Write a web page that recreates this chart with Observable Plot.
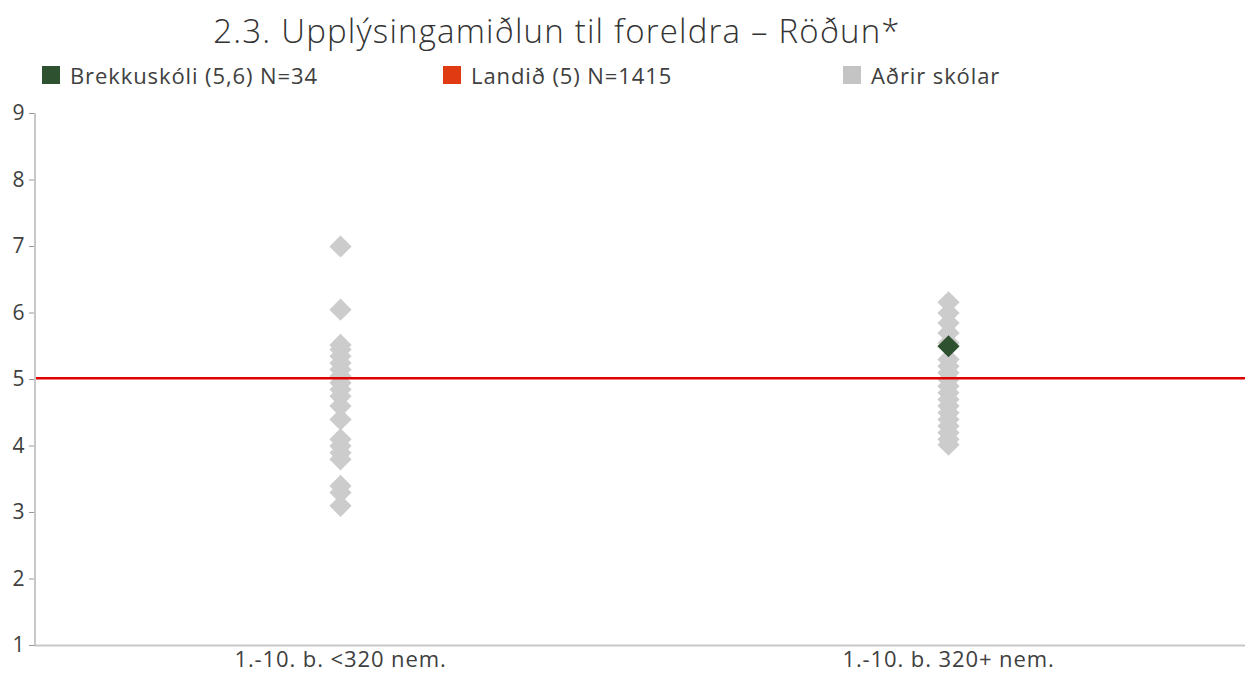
<!DOCTYPE html>
<html>
<head>
<meta charset="utf-8">
<script src="https://cdn.jsdelivr.net/npm/d3@7"></script>
<script src="https://cdn.jsdelivr.net/npm/@observablehq/plot@0.6"></script>
<style>
  body { margin: 0; background: #fff; font-family: "Open Sans", "Noto Sans", sans-serif; color: #404040; width: 1245px; height: 673px; overflow: hidden; }
  #title { height: 55px; line-height: 62px; font-size: 33px; font-weight: 300; letter-spacing: 1.2px; text-align: center; padding-right: 131px; box-sizing: border-box; color: #333; }
  #legend { height: 40px; position: relative; font-size: 22px; letter-spacing: 0.9px; }
  .item { position: absolute; top: 5px; display: flex; align-items: center; }
  .sw { width: 18px; height: 18px; margin-right: 10px; }
  #chart svg text { letter-spacing: 0.9px; }
</style>
</head>
<body>
<div id="title">2.3. Upplýsingamiðlun til foreldra – Röðun*</div>
<div id="legend"></div>
<div id="chart"></div>
<script>
const categories = ["1.-10. b. <320 nem.", "1.-10. b. 320+ nem."];
const otherSmall = [7.0, 6.05, 5.52, 5.45, 5.35, 5.25, 5.15, 5.05, 4.95, 4.85, 4.75, 4.6, 4.4, 4.1, 4.0, 3.9, 3.8, 3.4, 3.3, 3.1];
const otherLarge = [6.16, 6.0, 5.85, 5.7, 5.55, 5.3, 5.2, 5.1, 5.0, 4.9, 4.8, 4.7, 4.6, 4.5, 4.4, 4.3, 4.2, 4.1, 4.02];
const schoolName = "Brekkuskóli (5,6) N=34";
const schoolCategory = "1.-10. b. 320+ nem.";
const schoolValue = 5.5;
const nationName = "Landið (5) N=1415";
const nationValue = 5.02;
const othersName = "Aðrir skólar";
const yTicks = [1, 2, 3, 4, 5, 6, 7, 8, 9];

const colors = { school: "#2e5230", nation: "#e00000", nationLegend: "#e03a12", others: "#cccccc", othersLegend: "#c4c4c4" };

const legendItems = [
  { name: schoolName, color: colors.school, left: 42 },
  { name: nationName, color: colors.nationLegend, left: 443 },
  { name: othersName, color: colors.othersLegend, left: 843 }
];
const legend = document.getElementById("legend");
for (const it of legendItems) {
  const d = document.createElement("div");
  d.className = "item";
  d.style.left = it.left + "px";
  d.innerHTML = `<span class="sw" style="background:${it.color}"></span><span>${it.name}</span>`;
  legend.appendChild(d);
}

const others = [
  ...otherSmall.map(v => ({ cat: categories[0], v })),
  ...otherLarge.map(v => ({ cat: categories[1], v }))
];
const school = [{ cat: schoolCategory, v: schoolValue }];

const chart = Plot.plot({
  width: 1245,
  height: 578,
  marginTop: 18,
  marginBottom: 28,
  marginLeft: 35,
  marginRight: -7,
  style: { fontFamily: "'Open Sans', 'Noto Sans', sans-serif", fontSize: "21px", color: "#404040", background: "transparent", overflow: "hidden" },
  x: { type: "point", domain: categories, padding: 0.5, label: null },
  y: { domain: [1, 9], label: null },
  marks: [
    Plot.ruleY([1], { stroke: "#c8c8c8", strokeWidth: 2 }),
    Plot.axisY({ ticks: yTicks, tickSize: 6, tickPadding: 4, stroke: "#999", fill: "#404040", label: null, fontSize: 21 }),
    Plot.axisX({ tickSize: 0, tickPadding: 6, fill: "#404040", label: null, fontSize: 22 }),
    Plot.dot(others, { x: "cat", y: "v", symbol: "diamond2", r: 10, fill: colors.others, stroke: "none" }),
    Plot.ruleY([nationValue], { stroke: colors.nation, strokeWidth: 2.5 }),
    Plot.dot(school, { x: "cat", y: "v", symbol: "diamond2", r: 10, fill: colors.school, stroke: "none" })
  ]
});
document.getElementById("chart").appendChild(chart);
// left axis line
d3.select(chart).append("line").attr("x1", 35).attr("x2", 35).attr("y1", 18).attr("y2", 578 - 28)
  .attr("stroke", "#c8c8c8").attr("stroke-width", 2);
</script>
</body>
</html>
